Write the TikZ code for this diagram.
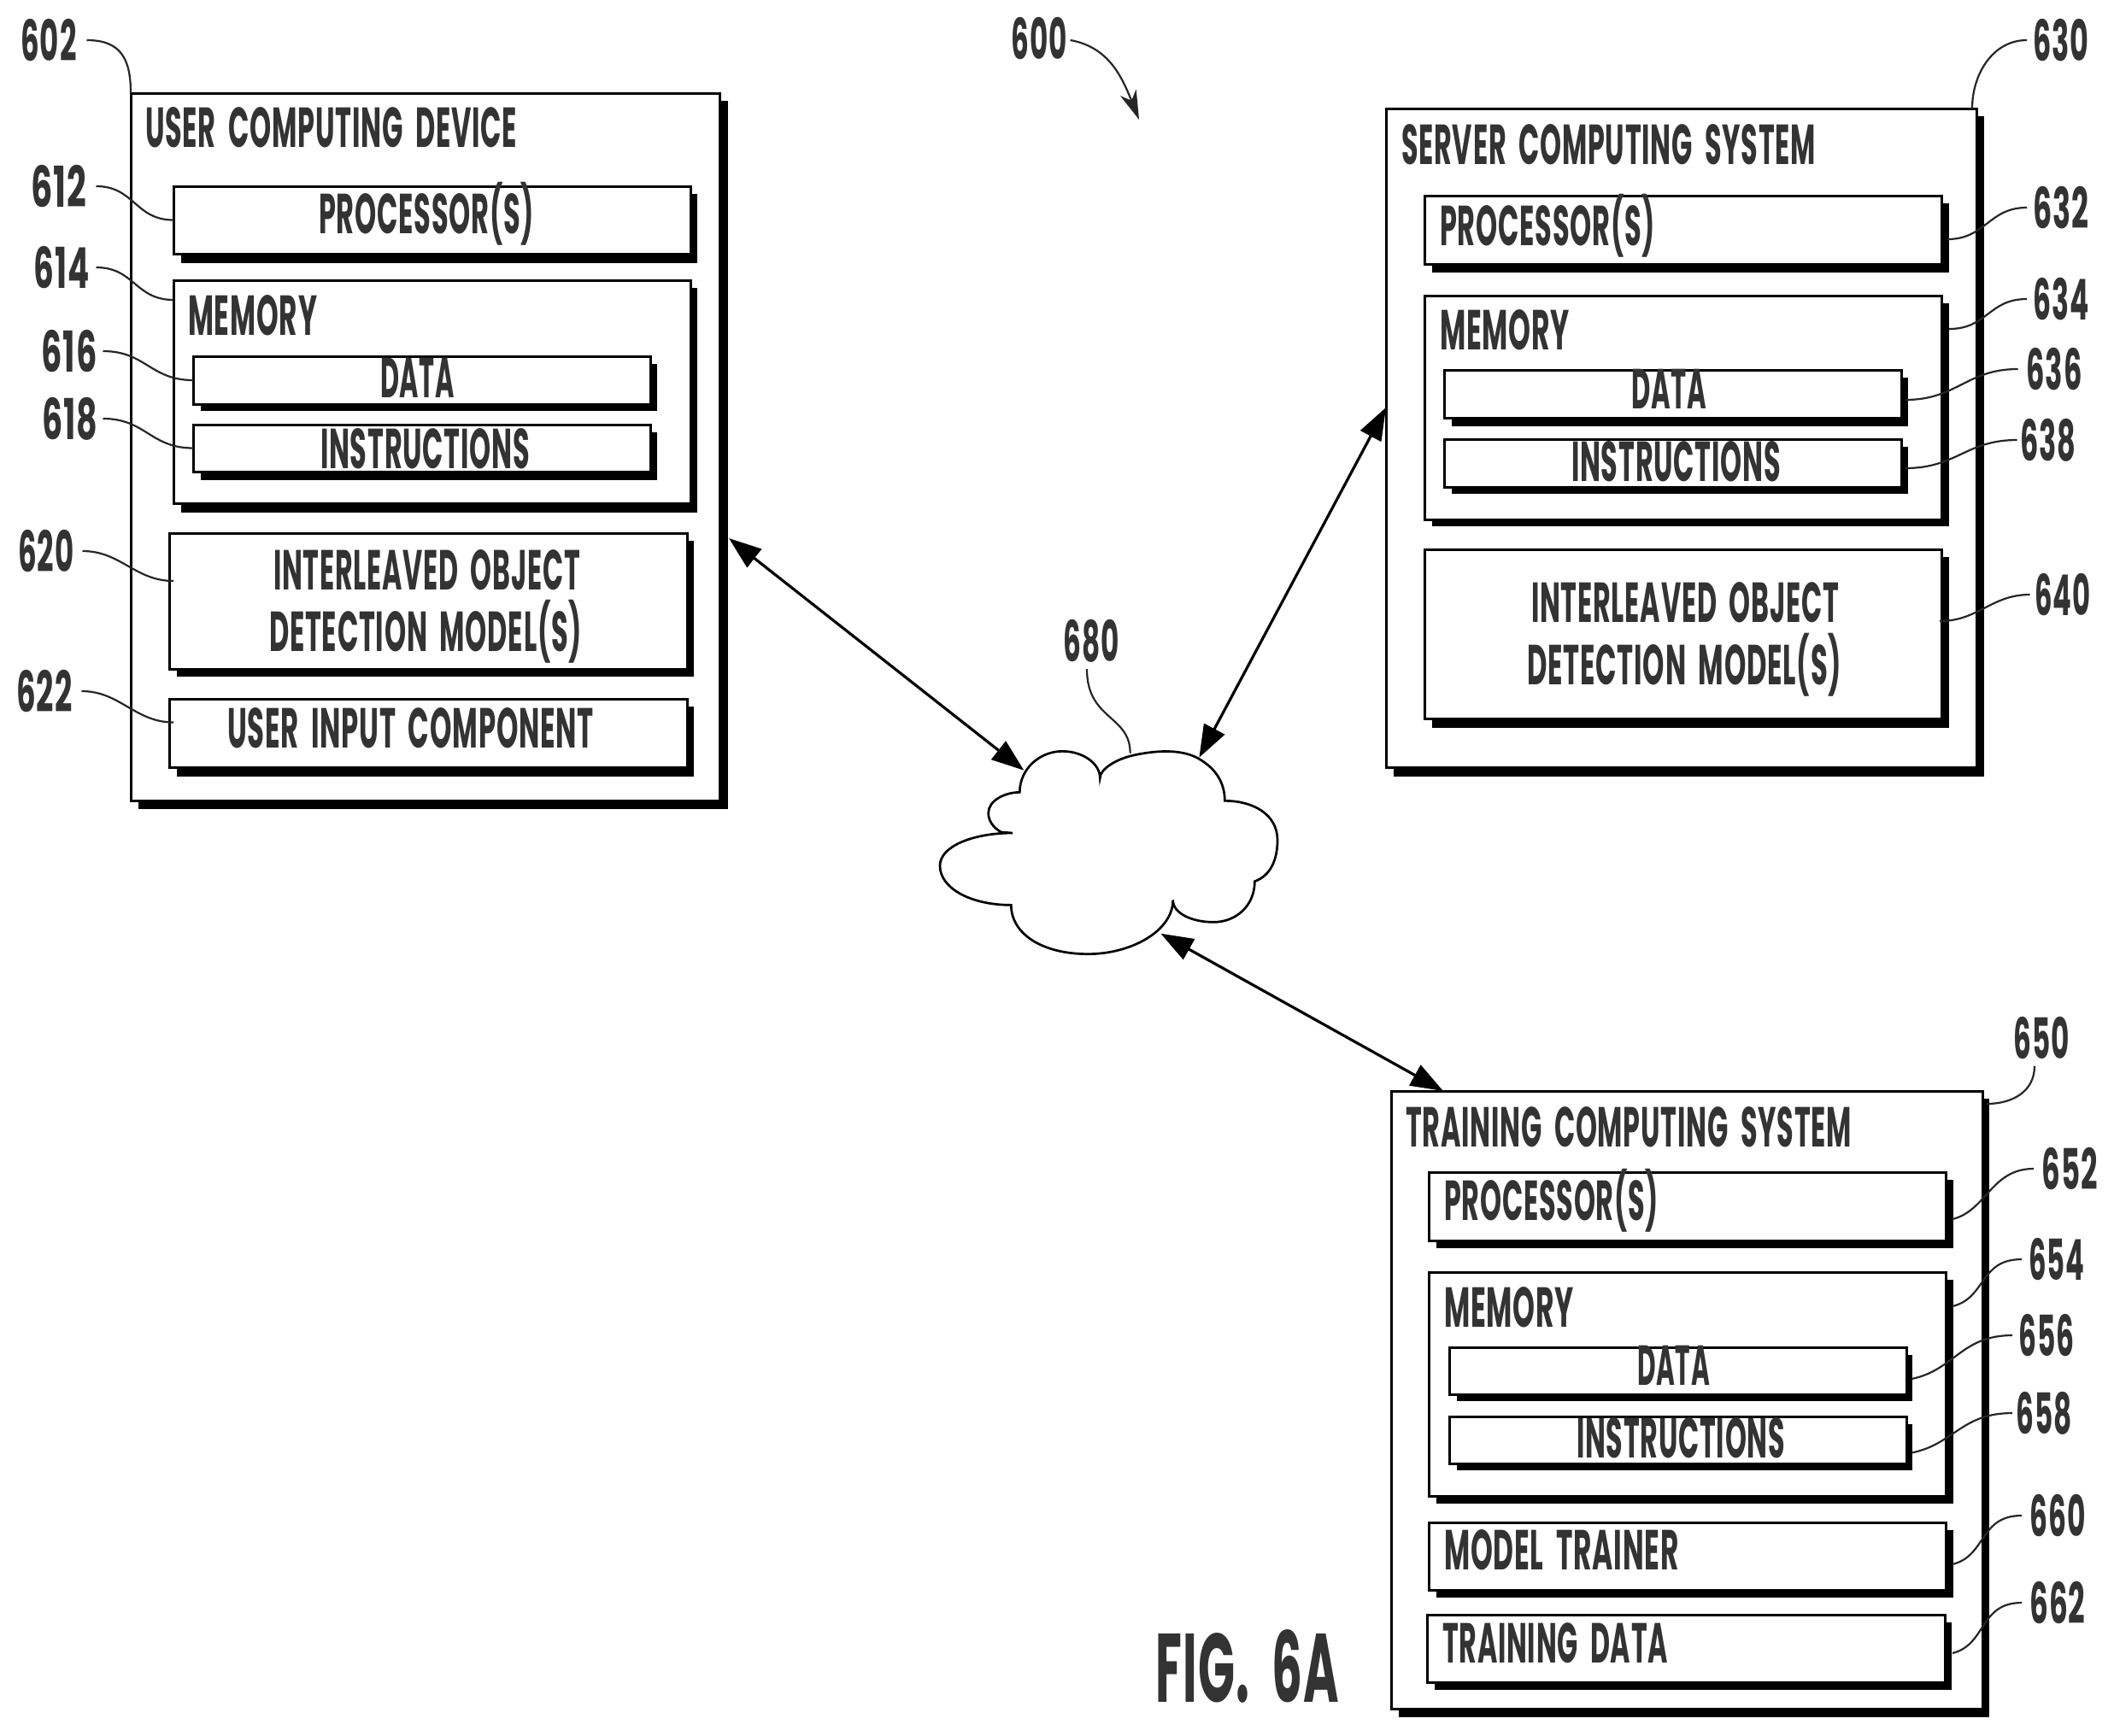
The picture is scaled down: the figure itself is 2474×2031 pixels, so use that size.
\documentclass[tikz,border=0pt]{standalone}
\usepackage{fontspec}
\usepackage{graphicx}
\setmainfont{Poppins}[WordSpace=1.9,LetterSpace=2.5]
\usetikzlibrary{arrows.meta}
\tikzset{
  bxs/.style={draw=black,fill=white,line width=1.5pt,inner sep=0pt,outer sep=0pt},
  txt/.style={inner sep=0pt,outer sep=0pt,text=black!80,font=\fontsize{33}{33}\selectfont\bfseries},
  numl/.style={txt,anchor=center},
  lead/.style={draw=black!85,line width=1.1pt},
  link/.style={draw=black,line width=1.6pt,{Triangle[length=19pt,width=13.5pt]}-{Triangle[length=19pt,width=13.5pt]},shorten >=0pt,shorten <=0pt},
  cloudline/.style={draw=black,fill=white,line width=1.35pt,line join=miter},
}
% box: name, left, top, right, bottom, shadow right, shadow bottom
\newcommand\bx[7]{%
  \fill[black] (#2+9,#3+9) rectangle (#6,#7);
  \pgfmathsetmacro\bw{(#4-#2)*0.5}%
  \pgfmathsetmacro\bh{(#5-#3)*0.5}%
  \node[bxs,minimum width=\bw pt,minimum height=\bh pt] (#1) at ({(#2+#4)/2},{(#3+#5)/2}) {};
}
% text: name, left, right, baseline, text
\newcommand\tx[5]{%
  \pgfmathsetlengthmacro\tw{(#3-#2)*0.5pt}%
  \node[txt,anchor=base west] (#1) at (#2,#4) {\resizebox{\tw}{\height}{#5}};
}
% number label: name, cx, cy, text
\newcommand\numb[4]{%
  \node[numl] (#1) at (#2,#3) {\resizebox{32.5pt}{\height}{#4}};
}
\begin{document}
\begin{tikzpicture}[x=0.5pt,y=-0.5pt]
\useasboundingbox (0,0) rectangle (2474,2031);
\fill[white] (0,0) rectangle (2474,2031);

% user computing device
\bx{p602}{153}{109}{842}{937}{852}{947}
\bx{p612}{203}{218}{808}{297}{816}{308}
\bx{p614}{203}{328}{808}{589}{816}{600}
\bx{p616}{226}{417}{761}{473}{769}{481}
\bx{p618}{226}{497}{761}{552}{769}{562}
\bx{p620}{198}{624}{804}{783}{812}{792}
\bx{p622}{198}{818}{804}{898}{812}{909}
\tx{t602}{170}{605}{172}{USER COMPUTING DEVICE}
\tx{t612}{373}{625}{273}{PROCESSOR(S)}
\tx{t614}{220}{371}{392}{MEMORY}
\tx{t616}{445}{532}{465}{DATA}
\tx{t618}{375}{620}{548}{INSTRUCTIONS}
\tx{t620a}{320}{679}{690}{INTERLEAVED OBJECT}
\tx{t620b}{315}{681}{762}{DETECTION MODEL(S)}
\tx{t622}{266}{695}{875}{USER INPUT COMPONENT}
\numb{n602}{57}{47}{602}
\numb{n612}{69}{218}{612}
\numb{n614}{72}{313}{614}
\numb{n616}{81}{411}{616}
\numb{n618}{82}{490}{618}
\numb{n620}{54}{645}{620}
\numb{n622}{52}{809}{622}
\draw[lead] ([xshift=6pt]n602.east) .. controls +(40,0) and +(0,-40) .. (p602.north west);
\draw[lead] ([xshift=5.5pt]n612.east) .. controls +(45,0) and +(-45,0) .. (p612.west);
\draw[lead] ([xshift=4pt]n614.east) .. controls +(45,0) and +(-45,0) .. ([yshift=53.75pt]p614.west);
\draw[lead] ([xshift=3.5pt]n616.east) .. controls +(50,0) and +(-50,0) .. (p616.west);
\draw[lead] ([xshift=3pt]n618.east) .. controls +(50,0) and +(-50,0) .. (p618.west);
\draw[lead] ([xshift=5pt]n620.east) .. controls +(45,0) and +(-45,0) .. ([xshift=2.5pt,yshift=11.75pt]p620.west);
\draw[lead] ([xshift=5.5pt]n622.east) .. controls +(45,0) and +(-45,0) .. ([xshift=2.5pt,yshift=6.25pt]p622.west);

% server computing system
\bx{p630}{1622}{127}{2313}{898}{2322}{909}
\bx{p632}{1667}{229}{2272}{309}{2281}{319}
\bx{p634}{1667}{346}{2272}{608}{2281}{616}
\bx{p636}{1690}{433}{2225}{489}{2233}{499}
\bx{p638}{1690}{514}{2225}{570}{2233}{578}
\bx{p640}{1667}{643}{2272}{841}{2281}{852}
\tx{t630}{1640}{2125}{192}{SERVER COMPUTING SYSTEM}
\tx{t632}{1685}{1937}{287}{PROCESSOR(S)}
\tx{t634}{1685}{1837}{409}{MEMORY}
\tx{t636}{1909}{1997}{478}{DATA}
\tx{t638}{1839}{2084}{563}{INSTRUCTIONS}
\tx{t640a}{1792}{2152}{728}{INTERLEAVED OBJECT}
\tx{t640b}{1787}{2155}{801}{DETECTION MODEL(S)}
\numb{n630}{2412}{47}{630}
\numb{n632}{2412}{243}{632}
\numb{n634}{2412}{350}{634}
\numb{n636}{2404}{432}{636}
\numb{n638}{2397}{515}{638}
\numb{n640}{2414}{696}{640}
\draw[lead] ([xshift=-3.75pt]n630.west) .. controls +(-40,0) and +(0,-40) .. ([xshift=-2.5pt]p630.north east);
\draw[lead] ([xshift=-3.75pt]n632.west) .. controls +(-45,0) and +(45,0) .. ([xshift=3.5pt,yshift=-5.5pt]p632.east);
\draw[lead] ([xshift=-3.75pt]n634.west) .. controls +(-45,0) and +(45,0) .. ([xshift=4.5pt,yshift=46pt]p634.east);
\draw[lead] ([xshift=-5pt]n636.west) .. controls +(-60,0) and +(60,0) .. ([xshift=2.5pt,yshift=-3.5pt]p636.east);
\draw[lead] ([xshift=-2pt]n638.west) .. controls +(-60,0) and +(60,0) .. ([xshift=2.5pt,yshift=-3pt]p638.east);
\draw[lead] ([xshift=-3pt]n640.west) .. controls +(-45,0) and +(45,0) .. ([xshift=-1pt,yshift=7.5pt]p640.east);

% training computing system
\bx{p650}{1628}{1277}{2320}{2000}{2328}{2010}
\bx{p652}{1672}{1372}{2277}{1452}{2286}{1461}
\bx{p654}{1672}{1489}{2277}{1751}{2286}{1760}
\bx{p656}{1696}{1577}{2231}{1632}{2238}{1640}
\bx{p658}{1696}{1658}{2231}{1713}{2238}{1721}
\bx{p660}{1672}{1782}{2277}{1861}{2286}{1870}
\bx{p662}{1670}{1890}{2276}{1969}{2284}{1978}
\tx{t650}{1645}{2167}{1342}{TRAINING COMPUTING SYSTEM}
\tx{t652}{1690}{1941}{1428}{PROCESSOR(S)}
\tx{t654}{1690}{1842}{1553}{MEMORY}
\tx{t656}{1916}{2001}{1621}{DATA}
\tx{t658}{1845}{2089}{1706}{INSTRUCTIONS}
\tx{t660}{1690}{1965}{1837}{MODEL TRAINER}
\tx{t662}{1688}{1952}{1946}{TRAINING DATA}
\numb{n650}{2389}{1215}{650}
\numb{n652}{2422}{1368}{652}
\numb{n654}{2407}{1474}{654}
\numb{n656}{2395}{1563}{656}
\numb{n658}{2392}{1654}{658}
\numb{n660}{2408}{1774}{660}
\numb{n662}{2408}{1876}{662}
\draw[lead] ([xshift=-4pt,yshift=-4pt]n650.south) .. controls +(0,30) and +(30,0) .. ([xshift=2.5pt,yshift=-7.5pt]p650.north east);
\draw[lead] ([xshift=-4.75pt]n652.west) .. controls +(-50,0) and +(40,-10) .. ([xshift=4pt,yshift=-7.5pt]p652.east);
\draw[lead] ([xshift=-4.25pt]n654.west) .. controls +(-50,0) and +(40,-10) .. ([xshift=4pt,yshift=45.5pt]p654.east);
\draw[lead] ([xshift=-3.75pt]n656.west) .. controls +(-60,0) and +(50,-10) .. ([xshift=3pt,yshift=-4.75pt]p656.east);
\draw[lead] ([xshift=-2.25pt]n658.west) .. controls +(-60,0) and +(50,-10) .. ([xshift=3pt,yshift=-7.5pt]p658.east);
\draw[lead] ([xshift=-4.75pt]n660.west) .. controls +(-50,0) and +(40,-10) .. ([xshift=4pt,yshift=-4.75pt]p660.east);
\draw[lead] ([xshift=-4.75pt]n662.west) .. controls +(-50,0) and +(40,-10) .. ([xshift=4.5pt,yshift=-2.75pt]p662.east);

% network cloud
\begin{scope}[shift={(1050,700)},x=0.16667pt,y=-0.16667pt]
\draw[cloudline] (712,632)
  .. controls (712,600) and (770,565) .. (830,552)
  .. controls (930,530) and (1010,535) .. (1060,565)
  .. controls (1120,600) and (1150,650) .. (1150,712)
  .. controls (1250,712) and (1335,760) .. (1335,850)
  .. controls (1335,920) and (1310,975) .. (1255,995)
  .. controls (1255,1080) and (1190,1138) .. (1110,1138)
  .. controls (1040,1138) and (968,1110) .. (968,1060)
  .. controls (968,1170) and (820,1250) .. (670,1250)
  .. controls (510,1250) and (400,1180) .. (400,1078)
  .. controls (260,1078) and (150,1020) .. (150,940)
  .. controls (150,870) and (270,825) .. (405,825)
  -- (365,822)
  .. controls (335,805) and (320,780) .. (320,755)
  .. controls (320,710) and (380,682) .. (430,682)
  .. controls (430,600) and (500,538) .. (580,538)
  .. controls (650,538) and (712,580) .. (712,632) -- cycle;
\coordinate (cloudA) at (445,605);
\coordinate (cloudB) at (1060,560);
\coordinate (cloudC) at (925,1178);
\coordinate (cloudT) at (818,545);
\end{scope}
\numb{n680}{1277}{750}{680}
\draw[lead] ([xshift=-2.5pt,yshift=-4pt]n680.south) .. controls +(0,60) and +(0,-45) .. (cloudT);

% connections
\draw[link] ([xshift=5.5pt,yshift=-53.5pt]p602.east) -- (cloudA);
\draw[link] ([yshift=17.75pt]p630.west) -- (cloudB);
\draw[link] ([xshift=-142.5pt]p650.north) -- (cloudC);

% figure reference
\numb{n600}{1216}{45}{600}
\coordinate (a600) at (1333,140);
\draw[lead,-{Stealth[length=17pt,width=10pt,inset=5pt]}] ([xshift=2pt,yshift=-1pt]n600.east) .. controls +(45,8) and +(-20,-50) .. (a600);

% figure label
\node[txt,anchor=base west,font=\fontsize{57}{57}\selectfont\bfseries] (fig) at (1352,1992) {\resizebox{107.5pt}{\height}{FIG. 6A}};
\end{tikzpicture}
\end{document}
